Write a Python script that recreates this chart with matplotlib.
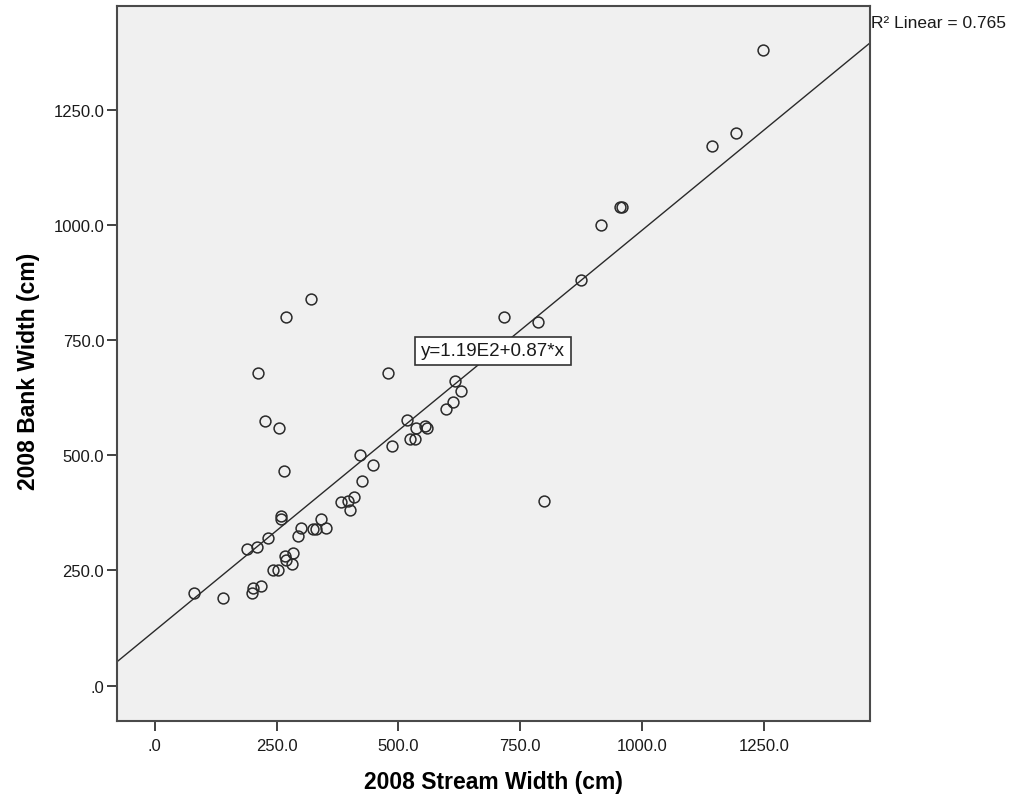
import matplotlib
matplotlib.use("Agg")
import matplotlib.pyplot as plt

plt.rcParams['font.family'] = ['Liberation Sans', 'DejaVu Sans']

# 2008 survey: stream width vs bank width (cm)
stream_width = [80, 140, 190, 210, 202, 200, 218, 232, 243, 253, 267, 270, 281,
                284, 294, 301, 325, 332, 341, 352, 260, 260, 266, 256, 226, 211,
                270, 321, 383, 396, 410, 400, 425, 421, 448, 488, 479, 518, 523,
                535, 537, 554, 559, 597, 612, 617, 629, 717, 786, 799, 875, 916,
                955, 960, 1143, 1193, 1248]
bank_width = [200, 191, 296, 301, 211, 200, 217, 321, 251, 251, 281, 272, 265,
              287, 326, 342, 340, 340, 362, 342, 369, 362, 466, 560, 575, 680,
              800, 840, 399, 400, 410, 381, 445, 501, 480, 520, 679, 577, 535,
              535, 560, 564, 559, 600, 616, 662, 640, 801, 790, 400, 881, 1001,
              1040, 1040, 1172, 1201, 1381]

# Linear fit as reported
fit_intercept = 119.0
fit_slope = 0.87
r_squared = 0.765

tick_values = [0, 250, 500, 750, 1000, 1250]
tick_labels = [".0", "250.0", "500.0", "750.0", "1000.0", "1250.0"]

W, H = 1016, 803
fig = plt.figure(figsize=(W / 100, H / 100), dpi=100)
ax = fig.add_axes([116.7 / W, 1 - 722 / H, (870 - 116.7) / W, (722 - 6.7) / H])
ax.set_facecolor('#f0f0f0')

ax.set_xlim(-78, 1468)
ax.set_ylim(-77, 1477)

ax.axline((0, fit_intercept), slope=fit_slope, color='#2a2a2a', lw=1.0, zorder=2)
ax.plot(stream_width, bank_width, 'o', ms=7.8, mfc='none', mec='#2a2a2a',
        mew=1.1, zorder=3)

ax.set_xticks(tick_values)
ax.set_xticklabels(tick_labels)
ax.set_yticks(tick_values)
ax.set_yticklabels(tick_labels)
ax.tick_params(direction='out', length=7, width=1.3, colors='#333333',
               labelsize=12, labelcolor='#1a1a1a')
ax.tick_params(axis='x', pad=5)
ax.tick_params(axis='y', pad=2)

for s in ax.spines.values():
    s.set_color('#4a4a4a')
    s.set_linewidth(1.5)

ax.set_xlabel("2008 Stream Width (cm)", fontsize=16.5, fontweight='bold',
              va='center', ha='center')
ax.xaxis.set_label_coords(0.5, (722 - 783) / (722 - 6.7))
ax.set_ylabel("2008 Bank Width (cm)", fontsize=16.5, fontweight='bold',
              va='center', ha='center')
ax.yaxis.set_label_coords((28 - 116.7) / (870 - 116.7), (722 - 371) / (722 - 6.7))

eq = f"y={fit_intercept / 100:.2f}E2+{fit_slope:.2f}*x"
fig.text(493 / W, 1 - 352 / H, eq, fontsize=13.5, ha='center', va='center',
         color='#1a1a1a',
         bbox=dict(boxstyle='square,pad=0.3', fc='white', ec='#333333', lw=1.2))

fig.text(871 / W, 1 - 23 / H, f"R\u00b2 Linear = {r_squared:.3f}", fontsize=12.5,
         ha='left', va='center', color='#1a1a1a')

fig.savefig("out.png", dpi=100, facecolor='white')
